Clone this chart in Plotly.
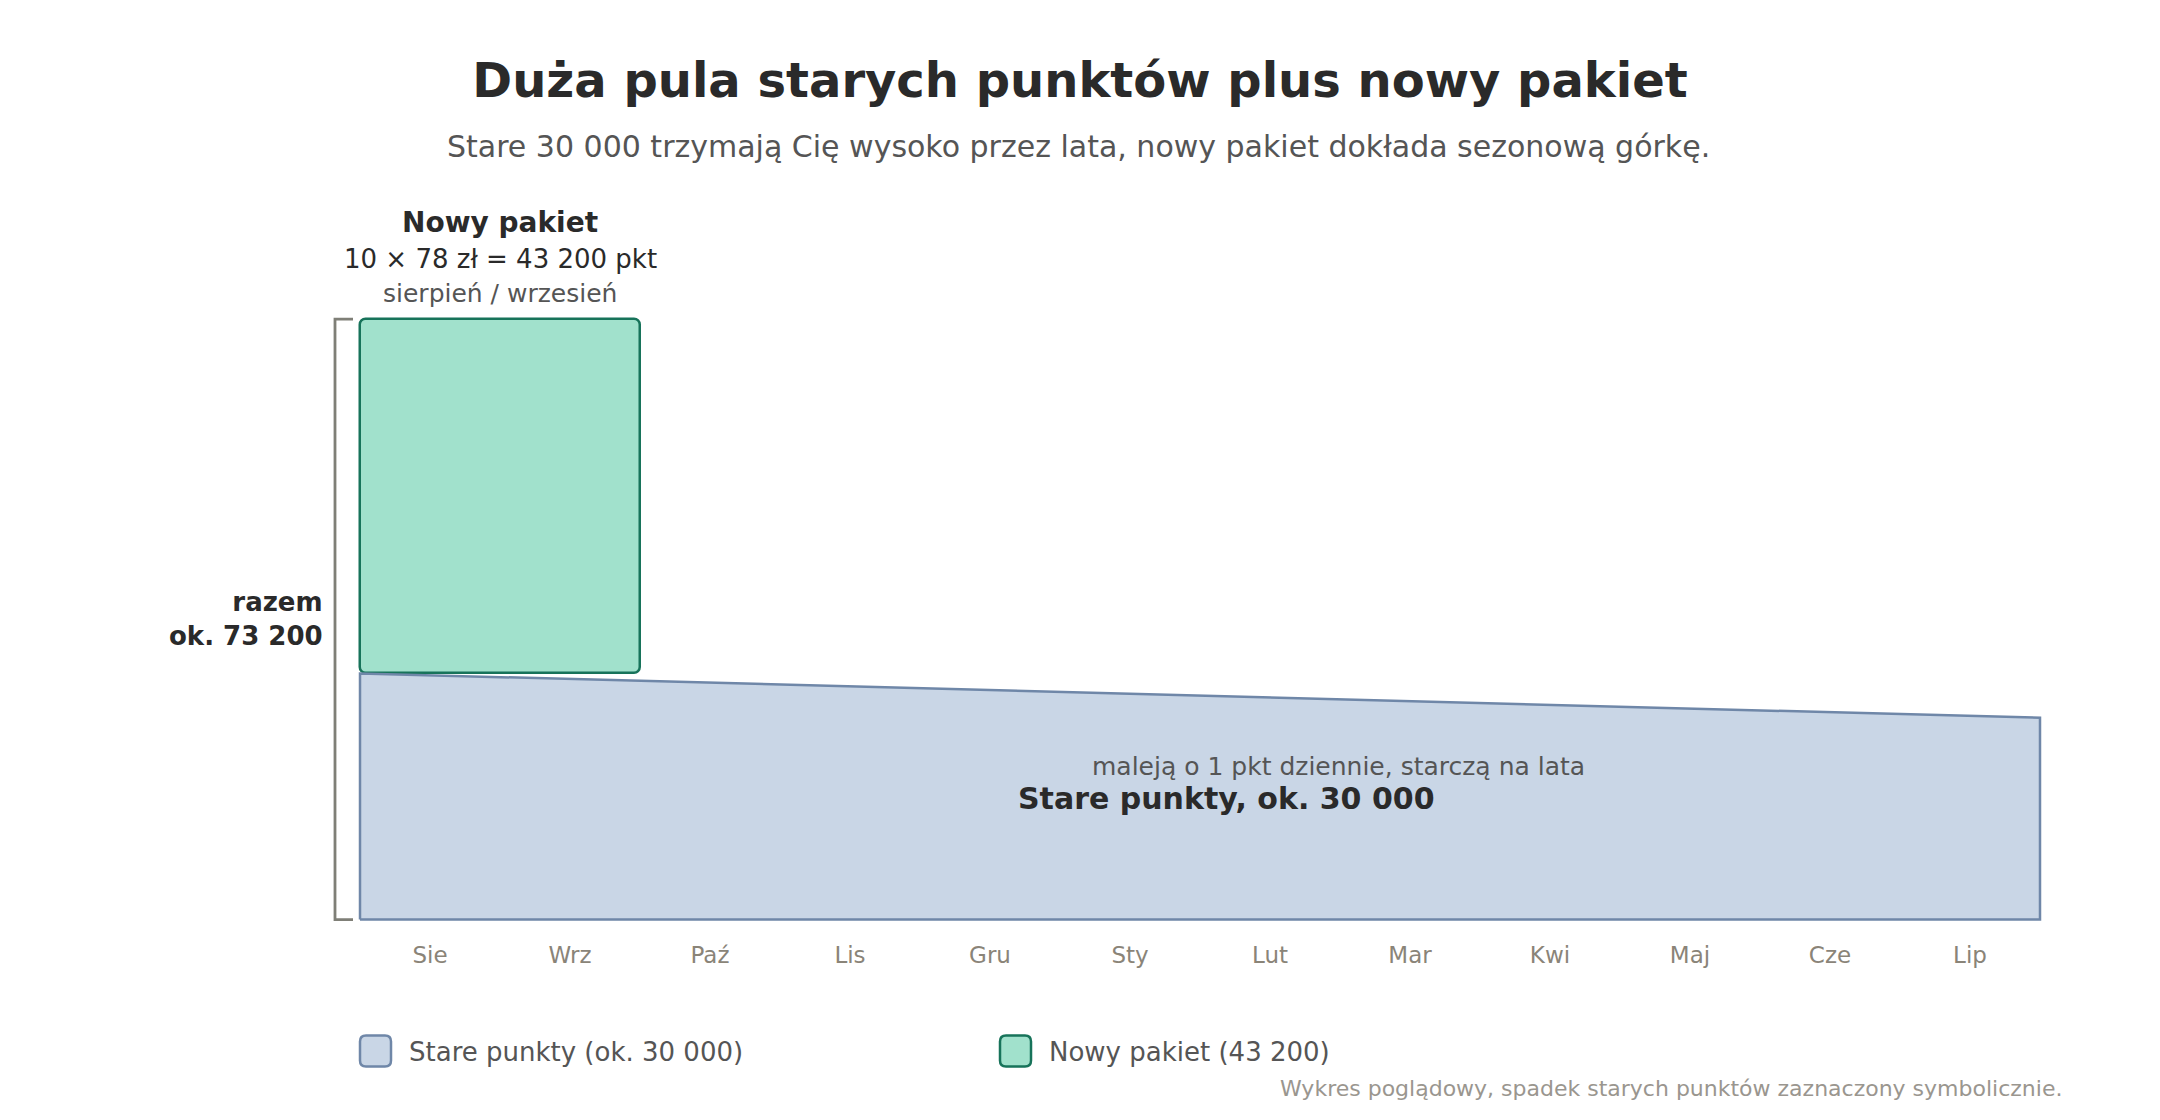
import plotly.graph_objects as go

# ---------------- data ----------------
months = ["Sie", "Wrz", "Paź", "Lis", "Gru", "Sty", "Lut", "Mar", "Kwi", "Maj", "Cze", "Lip"]
month_pos = [i + 0.5 for i in range(len(months))]

old_x = [0, 12]                 # start / end of the 12-month window
old_y = [30000, 24600]          # old points, drawn with a symbolic decline
new_pkg_value = 43200           # new package size
new_pkg_start = 0               # covers Sie + Wrz
new_pkg_months = 2
total_value = 73200

title = "Duża pula starych punktów plus nowy pakiet"
subtitle = "Stare 30 000 trzymają Cię wysoko przez lata, nowy pakiet dokłada sezonową górkę."
legend_labels = ["Stare punkty (ok. 30 000)", "Nowy pakiet (43 200)"]
footnote = "Wykres poglądowy, spadek starych punktów zaznaczony symbolicznie."

# ---------------- styles ----------------
FONT = "DejaVu Sans"
BLUE_FILL = "#C9D6E6"
BLUE_LINE = "#6F87A8"
GREEN_FILL = "#A1E1CC"
GREEN_LINE = "#17735A"
DARK = "#2A2A2A"
GREY = "#555555"
TICK = "#8A8478"
BRACKET = "#7F7F77"

W, H = 2160, 1120
ML, MR, MT, MB = 353, 113, 312, 198
PW, PH = W - ML - MR, H - MT - MB


def pxx(px):
    return (px - ML) / PW


def pxy(py):
    return (H - MB - py) / PH


fig = go.Figure()

# old points area (closed polygon)
poly_x = [old_x[0], old_x[0], old_x[1], old_x[1], old_x[0]]
poly_y = [0, old_y[0], old_y[1], 0, 0]
fig.add_trace(go.Scatter(
    x=poly_x, y=poly_y, mode="lines", fill="toself",
    fillcolor=BLUE_FILL, line=dict(color=BLUE_LINE, width=2.5),
    name=legend_labels[0], showlegend=False, hoverinfo="skip",
))

# new package bar sitting on the old points
fig.add_trace(go.Bar(
    x=[new_pkg_start + new_pkg_months / 2], y=[new_pkg_value], base=[old_y[0]],
    width=[new_pkg_months],
    marker=dict(color=GREEN_FILL, line=dict(color=GREEN_LINE, width=2.5), cornerradius=6),
    name=legend_labels[1], showlegend=False, hoverinfo="skip",
))

shapes = []
# bracket showing the total
shapes.append(dict(
    type="path", xref="paper", yref="y", xsizemode="pixel", xanchor=0,
    path=f"M0,{total_value} L-18,{total_value} L-18,0 L0,0",
    line=dict(color=BRACKET, width=2.8), layer="above",
))

# custom legend swatches (rounded squares)
def rounded_square(cx_px, cy_px, fill, line):
    s, r = 15.5, 6
    p = (f"M{-s + r},{-s} L{s - r},{-s} Q{s},{-s} {s},{-s + r} "
         f"L{s},{s - r} Q{s},{s} {s - r},{s} L{-s + r},{s} Q{-s},{s} {-s},{s - r} "
         f"L{-s},{-s + r} Q{-s},{-s} {-s + r},{-s} Z")
    return dict(type="path", xref="paper", yref="paper", xsizemode="pixel", ysizemode="pixel",
                xanchor=pxx(cx_px), yanchor=pxy(cy_px), path=p,
                fillcolor=fill, line=dict(color=line, width=2.5), layer="above")


shapes.append(rounded_square(375.5, 1051, BLUE_FILL, BLUE_LINE))
shapes.append(rounded_square(1015.5, 1051, GREEN_FILL, GREEN_LINE))

annotations = []
# subtitle
annotations.append(dict(
    text=subtitle, xref="paper", yref="paper", x=pxx(1078), y=pxy(146),
    xanchor="center", yanchor="middle", showarrow=False,
    font=dict(family=FONT, size=30, color=GREY),
))
# new package labels
pkg_center = new_pkg_start + new_pkg_months / 2
annotations += [
    dict(text="<b>Nowy pakiet</b>", x=pkg_center, y=total_value, xref="x", yref="y",
         yshift=97, showarrow=False, yanchor="middle",
         font=dict(family=FONT, size=28, color=DARK)),
    dict(text="10 × 78 zł = 43 200 pkt", x=pkg_center, y=total_value, xref="x", yref="y",
         yshift=60, showarrow=False, yanchor="middle",
         font=dict(family=FONT, size=26, color=DARK)),
    dict(text="sierpień / wrzesień", x=pkg_center, y=total_value, xref="x", yref="y",
         yshift=26, showarrow=False, yanchor="middle",
         font=dict(family=FONT, size=25, color=GREY)),
]
# total label
annotations.append(dict(
    text="<b>razem<br>ok. 73 200</b>", xref="paper", yref="y", x=0, xshift=-28,
    y=total_value / 2, xanchor="right", yanchor="middle", align="right", showarrow=False,
    font=dict(family=FONT, size=26, color=DARK),
))
# old points labels
annotations += [
    dict(text="maleją o 1 pkt dziennie, starczą na lata", x=6.99, y=18600, xref="x", yref="y",
         showarrow=False, xanchor="center", yanchor="middle",
         font=dict(family=FONT, size=25, color=GREY)),
    dict(text="<b>Stare punkty, ok. 30 000</b>", x=6.19, y=14800, xref="x", yref="y",
         showarrow=False, xanchor="center", yanchor="middle",
         font=dict(family=FONT, size=30, color=DARK)),
]
# legend texts
annotations += [
    dict(text=legend_labels[0], xref="paper", yref="paper", x=pxx(407), y=pxy(1052),
         xanchor="left", yanchor="middle", showarrow=False,
         font=dict(family=FONT, size=26, color=GREY)),
    dict(text=legend_labels[1], xref="paper", yref="paper", x=pxx(1047), y=pxy(1052),
         xanchor="left", yanchor="middle", showarrow=False,
         font=dict(family=FONT, size=26, color=GREY)),
]
# footnote
annotations.append(dict(
    text=footnote, xref="paper", yref="paper", x=pxx(2064), y=pxy(1088),
    xanchor="right", yanchor="middle", showarrow=False,
    font=dict(family=FONT, size=22, color="#9A968F"),
))

fig.update_layout(
    width=W, height=H,
    margin=dict(l=ML, r=MR, t=MT, b=MB),
    paper_bgcolor="white", plot_bgcolor="white",
    title=dict(text=f"<b>{title}</b>", x=0.5, xref="container", xanchor="center",
               y=1 - 80 / H, yref="container", yanchor="middle",
               font=dict(family=FONT, size=48, color=DARK)),
    font=dict(family=FONT),
    showlegend=False,
    shapes=shapes,
    annotations=annotations,
    bargap=0,
)
fig.update_xaxes(range=[-0.05, 12.05], tickvals=month_pos, ticktext=months,
                 showgrid=False, zeroline=False, showline=False, ticks="",
                 ticklabelstandoff=17,
                 tickfont=dict(family=FONT, size=23, color=TICK), fixedrange=True)
fig.update_yaxes(range=[-300, 74060], showgrid=False, zeroline=False, showline=False,
                 showticklabels=False, ticks="", fixedrange=True)

fig.write_html("out.html")
